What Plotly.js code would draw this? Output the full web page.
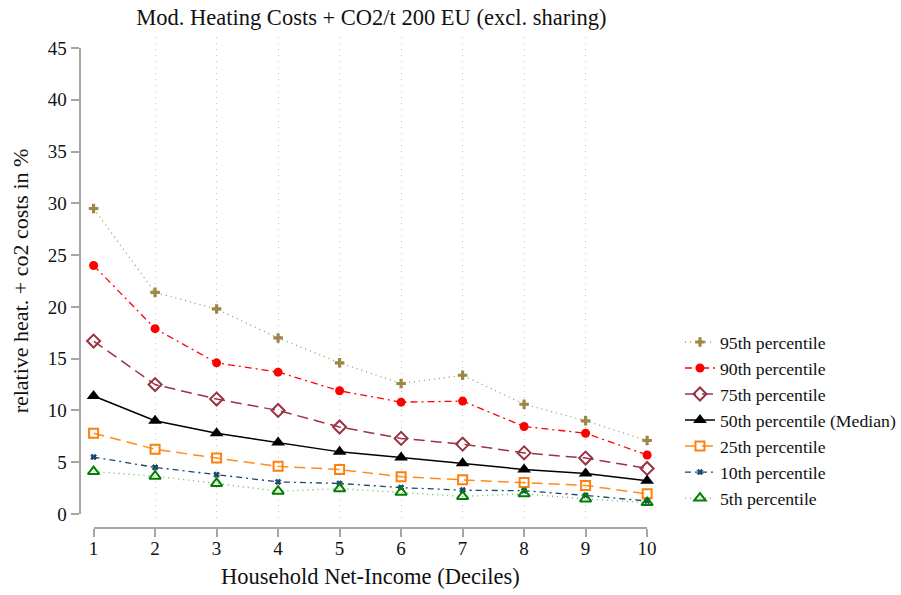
<!DOCTYPE html>
<html>
<head>
<meta charset="utf-8">
<script src="https://cdn.plot.ly/plotly-3.0.1.min.js"></script>
<style>
  html, body { margin: 0; padding: 0; background: #ffffff; }
  #chart { width: 901px; height: 595px; }
</style>
</head>
<body>
<div id="chart"></div>
<script>
// Household net-income deciles
const deciles = [1, 2, 3, 4, 5, 6, 7, 8, 9, 10];

// Relative heating + CO2 costs (% of income) by percentile
const p95 = [29.5, 21.4, 19.8, 17.0, 14.6, 12.6, 13.4, 10.6, 9.0, 7.1];
const p90 = [24.0, 17.9, 14.6, 13.7, 11.9, 10.8, 10.9, 8.45, 7.8, 5.7];
const p75 = [16.7, 12.5, 11.1, 10.0, 8.4, 7.3, 6.75, 5.9, 5.4, 4.4];
const p50 = [11.4, 9.0, 7.8, 6.9, 6.0, 5.45, 4.9, 4.3, 3.9, 3.2];
const p25 = [7.8, 6.25, 5.4, 4.6, 4.3, 3.6, 3.3, 3.05, 2.75, 1.95];
const p10 = [5.5, 4.5, 3.8, 3.1, 2.95, 2.55, 2.3, 2.25, 1.8, 1.25];
const p05 = [4.1, 3.65, 2.95, 2.2, 2.45, 2.1, 1.7, 1.95, 1.45, 1.1];

const yTicks = [0, 5, 10, 15, 20, 25, 30, 35, 40, 45];

const W = 901, H = 595;
const px = v => v / W;
const py = v => (H - v) / H;

const serif = 'Liberation Serif';

function series(name, y, line, marker) {
  return {
    type: 'scatter', mode: 'lines+markers', name: name,
    x: deciles, y: y, xaxis: 'x2', yaxis: 'y2',
    line: line, marker: marker, cliponaxis: false
  };
}

const traces = [
  // placeholder so the grid subplot is created
  { type: 'scatter', x: [], y: [], xaxis: 'x', yaxis: 'y', showlegend: false, hoverinfo: 'skip' },
  series('95th percentile', p95,
    { color: '#a8935a', width: 1.3, dash: '1px,4px' },
    { symbol: 'cross', size: 8, color: '#9c8748' }),
  series('90th percentile', p90,
    { color: '#ff0000', width: 1.3, dash: '7px,4px,2px,4px' },
    { symbol: 'circle', size: 9, color: '#ff0000' }),
  series('75th percentile', p75,
    { color: '#993344', width: 1.5, dash: '11px,6px' },
    { symbol: 'diamond-open', size: 10, color: '#993344', line: { width: 2, color: '#993344' } }),
  series('50th percentile (Median)', p50,
    { color: '#000000', width: 1.5 },
    { symbol: 'triangle-up', size: 12, color: '#000000' }),
  series('25th percentile', p25,
    { color: '#ff8c1a', width: 1.5, dash: '11px,6px' },
    { symbol: 'square-open', size: 9, color: '#ff7f0e', line: { width: 2, color: '#ff7f0e' } }),
  series('10th percentile', p10,
    { color: '#1a476f', width: 1.3, dash: '6px,4px,2px,4px' },
    { symbol: 'x', size: 5, color: '#1a476f', line: { width: 1, color: '#1a476f' } }),
  series('5th percentile', p05,
    { color: '#5cb85c', width: 1.3, dash: '1px,4px' },
    { symbol: 'triangle-up-open', size: 10, color: '#008000', line: { width: 2, color: '#008000' } })
];

const axisGray = '#a6a6a6';

const layout = {
  width: W, height: H,
  margin: { l: 0, r: 0, t: 0, b: 0 },
  paper_bgcolor: '#ffffff',
  plot_bgcolor: 'rgba(0,0,0,0)',
  font: { family: serif, size: 19, color: '#111111' },
  title: {
    text: 'Mod. Heating Costs + CO2/t 200 EU (excl. sharing)',
    font: { family: serif, size: 22.5, color: '#111111' },
    x: px(373), xanchor: 'center', xref: 'paper',
    y: 1 - 17 / H, yanchor: 'middle'
  },
  // dotted vertical grid, spanning slightly beyond the data axes
  xaxis: {
    domain: [px(94), px(650)], range: [1, 10], anchor: 'y',
    showgrid: true, gridcolor: '#c4c4c4', griddash: '1px,5px', gridwidth: 1,
    tickvals: deciles, showticklabels: false, ticks: '', showline: false, zeroline: false
  },
  yaxis: {
    domain: [py(523), py(37)], range: [0, 1], anchor: 'x',
    visible: false, showgrid: false, zeroline: false
  },
  // data axes
  xaxis2: {
    domain: [px(94), px(650)], range: [1, 10], anchor: 'free', position: py(528),
    tickvals: deciles, ticktext: deciles.map(String),
    showgrid: false, zeroline: false,
    showline: true, linecolor: axisGray, linewidth: 2,
    ticks: 'outside', ticklen: 8, tickwidth: 2, tickcolor: axisGray,
    ticklabelstandoff: -5,
    tickfont: { family: serif, size: 19, color: '#111111' },
    title: {
      text: 'Household Net-Income (Deciles)',
      font: { family: serif, size: 22.5, color: '#111111' },
      standoff: 9
    }
  },
  yaxis2: {
    domain: [py(514), py(48)], range: [0, 45], anchor: 'free', position: px(80),
    tickvals: yTicks, ticktext: yTicks.map(String),
    showgrid: false, zeroline: false,
    showline: true, linecolor: axisGray, linewidth: 2,
    ticks: 'outside', ticklen: 8, tickwidth: 2, tickcolor: axisGray,
    tickfont: { family: serif, size: 19, color: '#111111' },
    title: {
      text: 'relative heat. + co2 costs in %',
      font: { family: serif, size: 22, color: '#111111' },
      standoff: 12
    }
  },
  legend: {
    x: px(683), y: py(324), xanchor: 'left', yanchor: 'top',
    font: { family: serif, size: 17.7, color: '#111111' },
    bgcolor: 'rgba(0,0,0,0)', borderwidth: 0,
    tracegroupgap: 0
  },
  showlegend: true
};

Plotly.newPlot('chart', traces, layout, { displayModeBar: false, staticPlot: true });
</script>
</body>
</html>
